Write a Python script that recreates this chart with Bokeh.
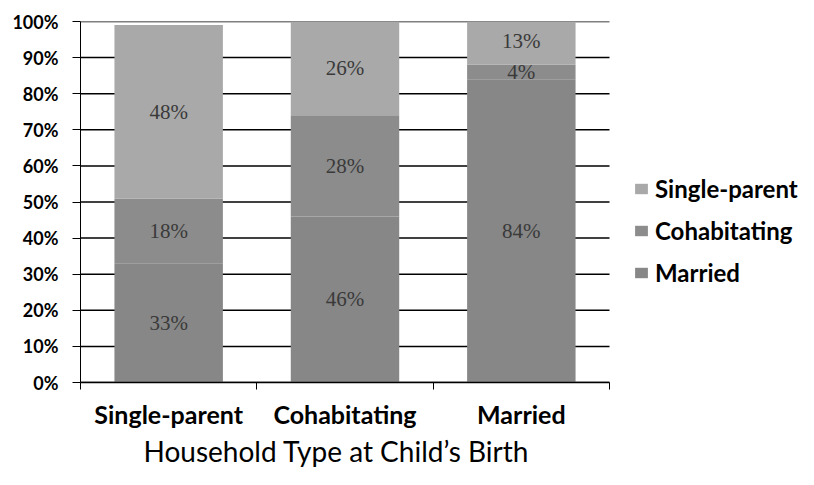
from bokeh.plotting import figure
from bokeh.models import ColumnDataSource, FixedTicker, PrintfTickFormatter, Legend, LabelSet, Title
from bokeh.embed import file_html
from bokeh.resources import INLINE

categories = ["Single-parent", "Cohabitating", "Married"]
series = ["Married", "Cohabitating", "Single-parent"]
married = [33, 46, 84]
cohabitating = [18, 28, 4]
single_parent = [48, 26, 13]
colors = ["#878787", "#8c8c8c", "#a9a9a9"]
y_ticks = [0, 10, 20, 30, 40, 50, 60, 70, 80, 90, 100]
x_title = "Household Type at Child\u2019s Birth"

n = len(categories)
xpos = [i + 0.5 for i in range(n)]
values = {"Married": married, "Cohabitating": cohabitating, "Single-parent": single_parent}

# layout: category area is 529px wide; frame extends further right to hold the legend
W, H = 798, 469
left, top, bottom = 80, 21, 87
cat_px = 529
frame_w = W - left
x_end = n * frame_w / cat_px

p = figure(width=W, height=H, output_backend="svg", toolbar_location=None,
           x_range=(0, x_end), y_range=(0, 100),
           min_border_left=left, min_border_right=0, min_border_top=top, min_border_bottom=bottom)
p.outline_line_color = None
p.background_fill_color = "white"
p.border_fill_color = "white"
p.xgrid.grid_line_color = None
p.ygrid.grid_line_color = None

# horizontal gridlines over the category area only
p.segment(x0=[0] * len(y_ticks), x1=[n] * len(y_ticks), y0=y_ticks, y1=y_ticks,
          line_color="black", line_width=1.5, level="underlay")

bottoms = [0] * n
renderers = []
label_sources = []
for name, col in zip(series, colors):
    vals = values[name]
    tops = [b + v for b, v in zip(bottoms, vals)]
    mids = [b + v / 2 for b, v in zip(bottoms, vals)]
    src = ColumnDataSource(dict(x=xpos, bottom=bottoms, top=tops, mid=mids,
                                txt=[f"{v}%" for v in vals]))
    r = p.vbar(x="x", bottom="bottom", top="top", width=0.615, source=src,
               fill_color=col, line_color=None)
    renderers.append((name, r))
    label_sources.append(src)
    bottoms = tops

for src in label_sources:
    ls = LabelSet(x="x", y="mid", text="txt", source=src, text_align="center",
                  text_baseline="middle", text_font="Liberation Serif",
                  text_font_size="21px", text_color="#3a3a3a")
    p.add_layout(ls)

# y axis
p.yaxis.ticker = FixedTicker(ticks=y_ticks)
p.yaxis.formatter = PrintfTickFormatter(format="%d%%")
p.yaxis.major_label_text_font = "Lato"
p.yaxis.major_label_text_font_style = "bold"
p.yaxis.major_label_text_font_size = "18px"
p.yaxis.major_label_text_color = "black"
p.yaxis.major_tick_out = 8
p.yaxis.major_tick_in = 0
p.yaxis.minor_tick_line_color = None
p.yaxis.axis_line_color = "black"
p.yaxis.major_tick_line_color = "black"
p.yaxis.major_label_standoff = 14

# x axis
p.xaxis.bounds = (0, n)
p.xaxis.ticker = FixedTicker(ticks=xpos, minor_ticks=list(range(n + 1)))
p.xaxis.major_label_overrides = {x: c for x, c in zip(xpos, categories)}
p.xaxis.major_tick_line_color = None
p.xaxis.major_tick_out = 0
p.xaxis.major_tick_in = 0
p.xaxis.minor_tick_out = 7
p.xaxis.minor_tick_in = 0
p.xaxis.minor_tick_line_color = "black"
p.xaxis.axis_line_color = "black"
p.xaxis.axis_line_width = 1.5
p.xaxis.major_label_text_font = "Lato"
p.xaxis.major_label_text_font_style = "bold"
p.xaxis.major_label_text_font_size = "25px"
p.xaxis.major_label_text_color = "black"
p.xaxis.major_label_standoff = 9

title = Title(text=x_title, align="left", offset=63, standoff=0,
              text_font="Lato", text_font_style="normal", text_font_size="28px",
              text_color="black")
p.add_layout(title, "below")

legend = Legend(items=[(nm, [r]) for nm, r in reversed(renderers)], location=(553, 95))
legend.border_line_color = None
legend.background_fill_alpha = 0
legend.padding = 0
legend.margin = 0
legend.spacing = 13
legend.glyph_width = 16
legend.glyph_height = 13
legend.label_height = 24
legend.label_standoff = 6
legend.label_text_font = "Lato"
legend.label_text_font_style = "bold"
legend.label_text_font_size = "24px"
legend.label_text_color = "black"
legend.label_text_baseline = "middle"
p.add_layout(legend, "center")

open("out.html", "w").write(file_html(p, INLINE))
